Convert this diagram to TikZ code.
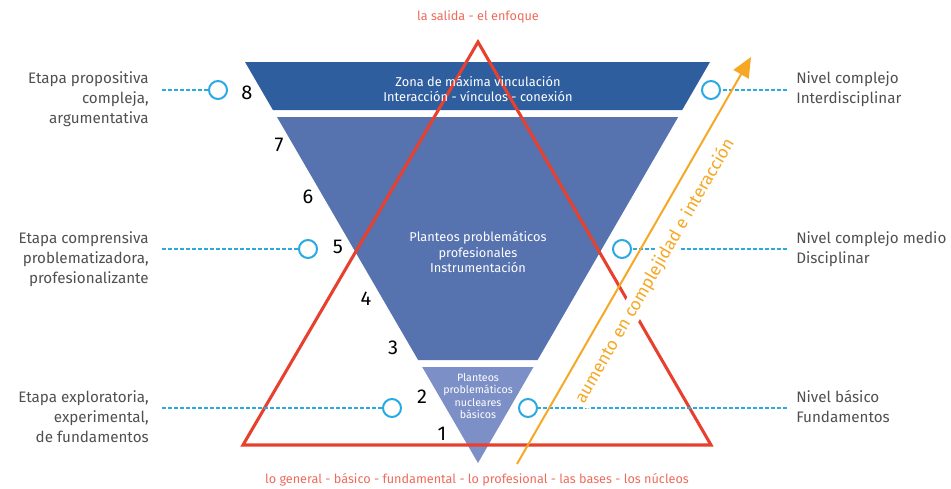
\documentclass[tikz,border=0pt]{standalone}
\usepackage{fontspec}
\setmainfont{Fira Sans}
\usetikzlibrary{arrows.meta}
\definecolor{bandA}{HTML}{2F5E9F}
\definecolor{bandB}{HTML}{5673B0}
\definecolor{bandC}{HTML}{7D8FC7}
\definecolor{redline}{HTML}{E8402E}
\definecolor{salmon}{HTML}{EE6B5C}
\definecolor{orangeA}{HTML}{F6A825}
\definecolor{cyanA}{HTML}{2AAAE1}
\definecolor{labelgray}{HTML}{505050}
\tikzset{
  lbl/.style={text=labelgray, font=\fontsize{11.4}{15}\selectfont, inner sep=0pt},
  lbll/.style={lbl, align=right, anchor=east},
  lblr/.style={lbl, align=left, anchor=west},
  num/.style={font=\fontsize{15}{16}\selectfont, text=black, inner sep=0pt},
  inner/.style={text=white, align=center, font=\fontsize{9.6}{11.3}\selectfont, inner sep=0pt},
  marker/.style={circle, draw=cyanA, line width=1.5pt, fill=white, minimum size=13.5pt, inner sep=0pt},
  leader/.style={draw=cyanA, line width=1.5pt, dash pattern=on 3pt off 1.5pt},
  redtext/.style={text=salmon, font=\fontsize{9.5}{11}\selectfont, inner sep=0pt}
}
\begin{document}
\begin{tikzpicture}[x=0.75pt,y=-0.75pt]
\useasboundingbox (0,0) rectangle (951,489);
% blue shapes
\fill[bandA] (245,62) -- (710,62) -- (682.2,110) -- (272.9,110) -- cycle;
\fill[bandB] (277,117) -- (678.2,117) -- (537.6,360) -- (418.1,360) -- cycle;
\fill[bandC] (422.2,367) -- (533.5,367) -- (478,463) -- cycle;
% red triangle
\draw[redline, line width=2.3pt, line join=miter] (478,42) -- (711,445) -- (243,445) -- cycle;
% leader lines and markers
\coordinate (l1) at (162,90);
\coordinate (l2) at (162,249);
\coordinate (l3) at (162,408);
\coordinate (r1) at (787,90);
\coordinate (r2) at (787,249);
\coordinate (r3) at (787,408);
\node[marker] (cl1) at (218,90) {};
\node[marker] (cl2) at (308,249) {};
\node[marker] (cl3) at (392,408) {};
\node[marker] (cr1) at (711,90) {};
\node[marker] (cr2) at (622,249) {};
\node[marker] (cr3) at (528,408) {};
\path[leader] (l1) -- (cl1);
\path[leader] (l2) -- (cl2);
\path[leader] (l3) -- (cl3);
\path[leader] (r1) -- (cr1);
\path[leader] (r2) -- (cr2);
\path[leader] (r3) -- (cr3);
% orange text and arrow
\node[fill=white, inner sep=1.5pt, rotate=60.1, text=orangeA, font=\fontsize{13}{14}\selectfont] (arrtext) at (655,271) {aumento en complejidad e interacción};
\coordinate (as) at (517,464);
\coordinate (ae) at (751,57);
\draw[orangeA, line width=1.5pt, -{Triangle[length=15pt, width=13pt]}] (as) -- (ae);
% shape texts
\node[inner] (t8) at (478,89) {Zona de máxima vinculación\\Interacción - vínculos - conexión};
\node[inner] (tmid) at (478,252) {Planteos problemáticos\\profesionales\\Instrumentación};
\node[inner, font=\fontsize{8}{9.3}\selectfont] (tsmall) at (478,396) {Planteos\\problemáticos\\nucleares\\básicos};
% numbers
\node[num] (n8) at (247,93) {8};
\node[num] (n7) at (279,145) {7};
\node[num] (n6) at (308,197) {6};
\node[num] (n5) at (338,247) {5};
\node[num] (n4) at (366,299) {4};
\node[num] (n3) at (393,348) {3};
\node[num] (n2) at (422,397) {2};
\node[num] (n1) at (442,434) {1};
% side labels
\node[lbll] (L1) at (149,99) {Etapa propositiva\\compleja,\\argumentativa};
\node[lbll] (L2) at (149,259) {Etapa comprensiva\\problematizadora,\\profesionalizante};
\node[lbll] (L3) at (149,417) {Etapa exploratoria,\\experimental,\\de fundamentos};
\node[lblr] (R1) at (796,89) {Nivel complejo\\Interdisciplinar};
\node[lblr] (R2) at (796,249) {Nivel complejo medio\\Disciplinar};
\node[lblr] (R3) at (796,407) {Nivel básico\\Fundamentos};
% top and bottom
\node[redtext] (top) at (478,17) {la salida - el enfoque};
\node[redtext] (bottom) at (477,480) {lo general - básico - fundamental - lo profesional - las bases - los núcleos};
\end{tikzpicture}
\end{document}
